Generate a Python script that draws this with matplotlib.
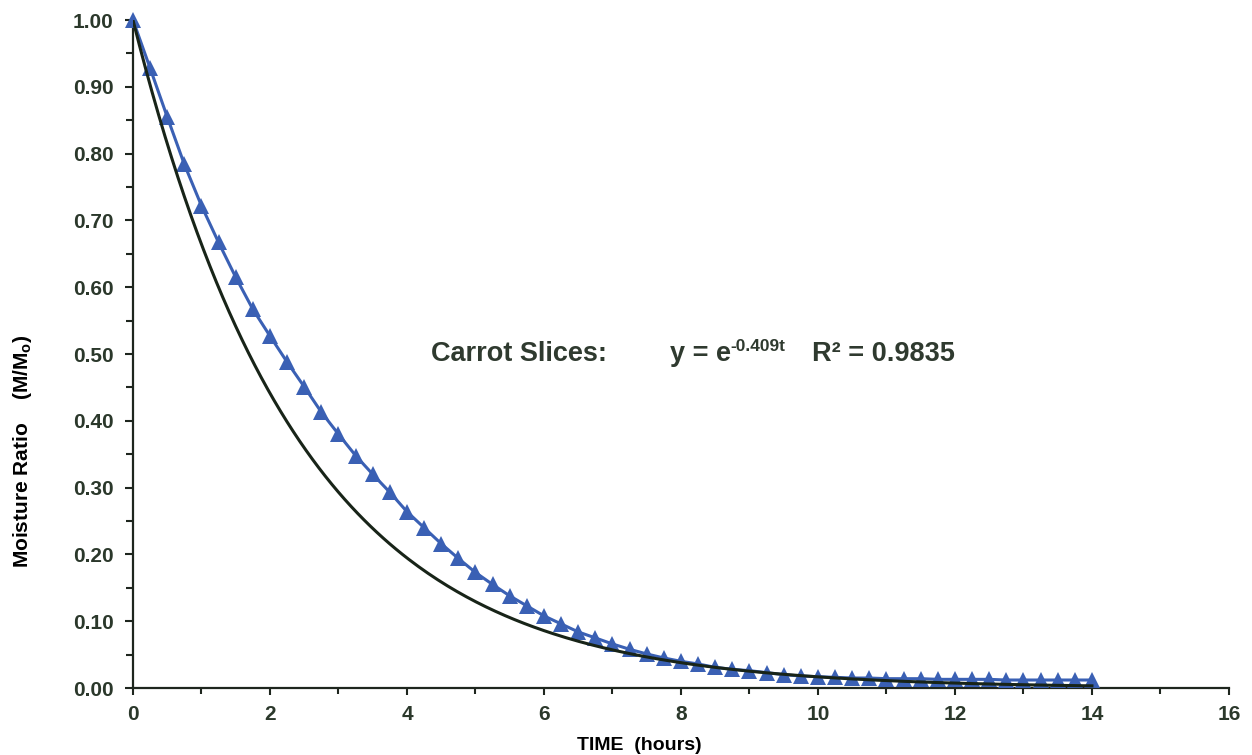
import numpy as np
import matplotlib.pyplot as plt
from matplotlib.ticker import MultipleLocator, FormatStrFormatter

plt.rcParams['font.family'] = ['Liberation Sans', 'DejaVu Sans']
plt.rcParams['mathtext.fontset'] = 'custom'
plt.rcParams['mathtext.rm'] = 'Liberation Sans:bold'
plt.rcParams['mathtext.bf'] = 'Liberation Sans:bold'
plt.rcParams['mathtext.default'] = 'bf'

# measured moisture ratio, every 15 minutes
time_h = np.arange(0, 14.01, 0.25)
moisture_ratio = [
    1.000, 0.928, 0.855, 0.784, 0.722, 0.667, 0.615, 0.567, 0.527, 0.488,
    0.451, 0.413, 0.380, 0.348, 0.320, 0.293, 0.264, 0.240, 0.216, 0.194,
    0.173, 0.155, 0.138, 0.123, 0.108, 0.096, 0.084, 0.075, 0.066, 0.058,
    0.051, 0.045, 0.040, 0.036, 0.031, 0.028, 0.026, 0.023, 0.020, 0.018,
    0.017, 0.016, 0.015, 0.015, 0.014, 0.014, 0.014, 0.013, 0.013, 0.013,
    0.013, 0.012, 0.012, 0.012, 0.012, 0.012, 0.012,
]

# exponential model y = exp(-k t)
k_fit = 0.409
r_squared = 0.9835

tick_color = '#2b382b'

fig = plt.figure(figsize=(12.52, 7.55), dpi=100)
ax = fig.add_axes([0.1062, 0.0887, 0.8754, 0.8848])

ax.plot(time_h, moisture_ratio, color='#3a60b4', lw=2.2, marker='^',
        markersize=11, markeredgewidth=0, zorder=3, clip_on=False)
t_fit = np.linspace(0, 14, 300)
ax.plot(t_fit, np.exp(-k_fit * t_fit), color='#182418', lw=2.2, zorder=4)

ax.set_xlim(0, 16)
ax.set_ylim(0, 1.0)
ax.xaxis.set_major_locator(MultipleLocator(2))
ax.xaxis.set_minor_locator(MultipleLocator(1))
ax.yaxis.set_major_locator(MultipleLocator(0.1))
ax.yaxis.set_minor_locator(MultipleLocator(0.05))
ax.yaxis.set_major_formatter(FormatStrFormatter('%.2f'))

for side in ('top', 'right'):
    ax.spines[side].set_visible(False)
for side in ('left', 'bottom'):
    ax.spines[side].set_linewidth(1.6)
    ax.spines[side].set_color('#1e261e')

ax.tick_params(axis='both', which='both', direction='out', width=1.5,
               color='#1e261e', labelsize=15, labelcolor=tick_color)
ax.tick_params(axis='y', which='major', length=6, pad=8)
ax.tick_params(axis='y', which='minor', length=5)
ax.tick_params(axis='x', which='major', length=5, pad=7)
ax.tick_params(axis='x', which='minor', length=4)
for lbl in ax.get_xticklabels() + ax.get_yticklabels():
    lbl.set_fontweight('bold')

fig.text(0.511, 0.013, 'TIME  (hours)', ha='center', va='center',
         fontsize=14, fontweight='bold', color='black')
fig.text(0.0176, 0.2477, r'Moisture Ratio    (M/M$_{\mathbf{o}}$)', ha='center',
         va='bottom', rotation=90, fontsize=15, fontweight='bold',
         color='black')

text_color = '#2f3a2f'
ax.text(4.35, 0.50, 'Carrot Slices:', fontsize=19.5, fontweight='bold',
        color=text_color, va='center')
ax.text(7.84, 0.50, 'y = e', fontsize=19.5, fontweight='bold',
        color=text_color, va='center')
ax.text(8.72, 0.512, '-%.3ft' % k_fit, fontsize=12.5, fontweight='bold',
        color=text_color, va='center')
ax.text(9.92, 0.50, 'R² = %.4f' % r_squared, fontsize=19.5,
        fontweight='bold', color=text_color, va='center')

fig.savefig('out.png', dpi=100)
